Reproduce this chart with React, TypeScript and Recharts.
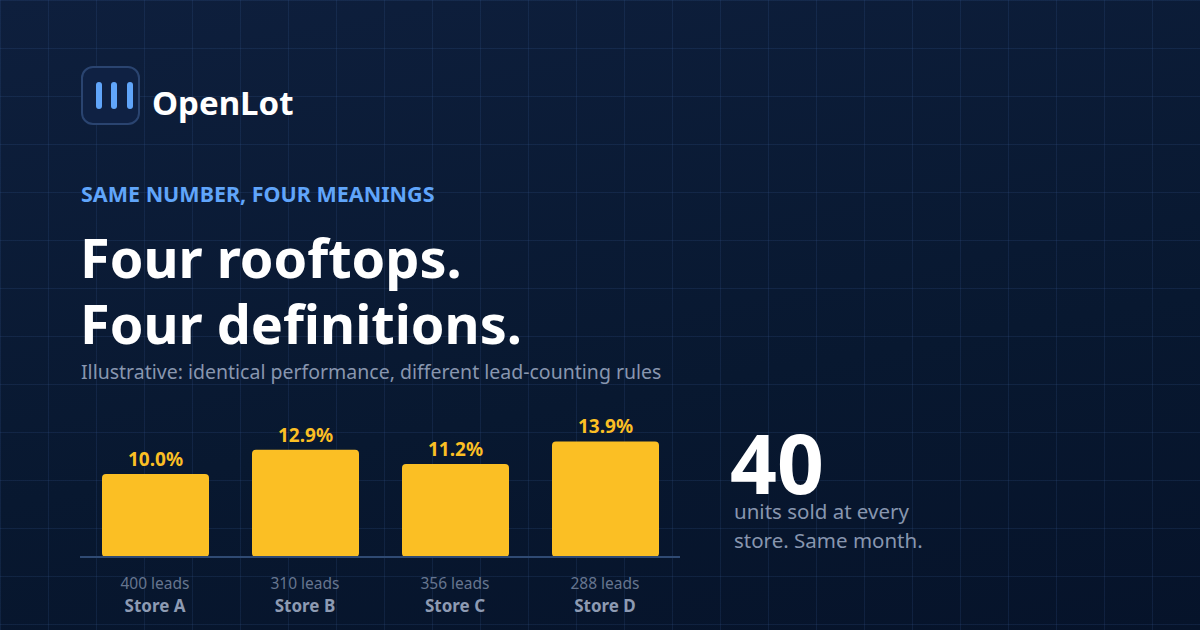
import React from 'react';
import { BarChart, Bar, XAxis, YAxis, LabelList } from 'recharts';

const stores = ['Store A', 'Store B', 'Store C', 'Store D'];
const closeRates = [10.0, 12.9, 11.2, 13.9];
const leadCounts = [400, 310, 356, 288];
const unitsSold = 40;

const data = stores.map((store, i) => ({ store, rate: closeRates[i], leads: leadCounts[i] }));

const FONT = '"Noto Sans", "Open Sans", sans-serif';
const GRID = 'rgba(70,110,180,0.15)';

// place a one-line text by its baseline (Noto Sans metrics)
const at = (baseline: number, size: number, lh = size) => ({
  position: 'absolute' as const,
  top: baseline - ((lh - 1.362 * size) / 2 + 1.069 * size),
  fontSize: size,
  lineHeight: `${lh}px`,
  whiteSpace: 'nowrap' as const,
});

function StoreTick(props: any) {
  const { x, y, payload, index } = props;
  return (
    <g>
      <text x={x} y={y + 32} textAnchor="middle" fill="#66758f" fontSize={15.5} fontFamily={FONT}>
        {leadCounts[index]} leads
      </text>
      <text x={x} y={y + 55} textAnchor="middle" fill="#8e9bb3" fontSize={17} fontWeight={700} fontFamily={FONT}>
        {payload.value}
      </text>
    </g>
  );
}

export default function App() {
  return (
    <div
      style={{
        position: 'relative',
        width: 1200,
        height: 630,
        overflow: 'hidden',
        fontFamily: FONT,
        backgroundColor: '#0a1a34',
        backgroundImage: `linear-gradient(to right, ${GRID} 1px, transparent 1px), linear-gradient(to bottom, ${GRID} 1px, transparent 1px), linear-gradient(170deg, #0e1f3d 0%, #081830 60%, #06132a 100%)`,
        backgroundSize: '48px 48px, 48px 48px, 100% 100%',
      }}
    >
      <style>{'body{margin:0}'}</style>

      {/* logo */}
      <div
        style={{
          position: 'absolute', left: 81, top: 66, width: 55, height: 55,
          border: '2px solid #2a4470', borderRadius: 12, background: '#0f2143',
        }}
      >
        {[14, 29, 45].map((l) => (
          <div key={l} style={{ position: 'absolute', left: l - 1, top: 14, width: 6, height: 27, borderRadius: 3, background: '#60a5fa' }} />
        ))}
      </div>
      <div style={{ ...at(115, 33), left: 152, color: '#ffffff', fontWeight: 700 }}>OpenLot</div>

      <div style={{ ...at(202, 21.5), left: 81, color: '#60a5fa', fontWeight: 700 }}>SAME NUMBER, FOUR MEANINGS</div>
      <div style={{ ...at(278, 54, 60), left: 80, color: '#ffffff', fontWeight: 700 }}>Four rooftops.</div>
      <div style={{ ...at(344, 54, 60), left: 80, color: '#ffffff', fontWeight: 700 }}>Four definitions.</div>
      <div style={{ ...at(379, 19.5), left: 81, color: '#8896af' }}>
        Illustrative: identical performance, different lead-counting rules
      </div>

      <div style={{ position: 'absolute', left: 80, top: 400 }}>
        <BarChart width={600} height={217} data={data} margin={{ top: 24, right: 0, bottom: 0, left: 0 }}>
          <XAxis
            dataKey="store"
            axisLine={{ stroke: '#2f4a73', strokeWidth: 2 }}
            tickLine={false}
            tickSize={0}
            tickMargin={0}
            height={60}
            interval={0}
            tick={<StoreTick />}
          />
          <YAxis hide domain={[0, 16]} />
          <Bar dataKey="rate" fill="#fbbf24" barSize={107} radius={[4, 4, 4, 4]} isAnimationActive={false}>
            <LabelList
              dataKey="rate"
              position="top"
              offset={8}
              formatter={(v: any) => `${Number(v).toFixed(1)}%`}
              fill="#fbbf24"
              fontSize={19}
              fontWeight={700}
              fontFamily={FONT}
            />
          </Bar>
        </BarChart>
      </div>

      <div style={{ ...at(494, 82, 66), left: 730, color: '#ffffff', fontWeight: 700 }}>{unitsSold}</div>
      <div style={{ ...at(519, 20.5, 24), left: 734, color: '#8896af' }}>units sold at every</div>
      <div style={{ ...at(548, 20.5, 24), left: 734, color: '#8896af' }}>store. Same month.</div>
    </div>
  );
}
